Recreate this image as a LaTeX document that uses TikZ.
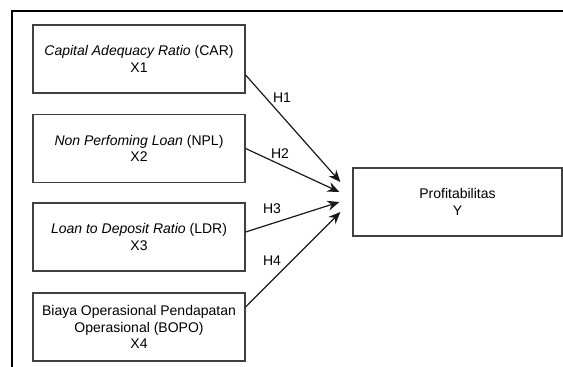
\documentclass[tikz,border=0pt]{standalone}
\usepackage{fontspec}
\setmainfont{Liberation Sans}
\usetikzlibrary{arrows.meta}

\tikzset{
  varbox/.style={draw=black!75, line width=1.2pt, minimum width=212pt, minimum height=68pt,
    align=center, inner sep=1pt, font=\fontsize{14}{16.5}\selectfont},
  hyp/.style={font=\fontsize{14}{16}\selectfont, inner sep=0pt},
  path/.style={draw=black!90, line width=1.2pt, -{Stealth[length=12pt,width=10pt]}}
}

\begin{document}
\begin{tikzpicture}[x=1pt,y=-1pt]
    \useasboundingbox (0,0) rectangle (563,367);
    % frame (only top and left edge visible)
    \draw[line width=1.8pt] (563,11) -- (12,11) -- (12,367);
    % independent variables
    \node[varbox] (car) at (139,59) {\textit{Capital Adequacy Ratio} (CAR)\\X1};
    \node[varbox] (npl) at (139,148.5) {\textit{Non Perfoming Loan} (NPL)\\X2};
    \node[varbox] (ldr) at (139,237) {\textit{Loan to Deposit Ratio} (LDR)\\X3};
    \node[varbox] (bopo) at (139,327) {Biaya Operasional Pendapatan\\Operasional (BOPO)\\X4};
    % dependent variable
    \node[varbox, minimum width=209pt] (prof) at (457.5,202) {Profitabilitas\\Y};
    \coordinate (t1) at ([shift={(-12,-20)}]prof.west);
    \coordinate (t2) at ([shift={(-13,-10)}]prof.west);
    \coordinate (t3) at ([shift={(-13,0)}]prof.west);
    \coordinate (t4) at ([shift={(-12,10)}]prof.west);
    % hypotheses
    \draw[path] ([yshift=-16]car.east) -- (t1);
    \draw[path] (npl.east) -- (t2);
    \draw[path] ([yshift=5]ldr.east) -- (t3);
    \draw[path] ([yshift=20]bopo.east) -- (t4);
    \node[hyp] (h1) at (282,98) {H1};
    \node[hyp] (h2) at (280,154) {H2};
    \node[hyp] (h3) at (272,209) {H3};
    \node[hyp] (h4) at (272,261) {H4};
\end{tikzpicture}
\end{document}
